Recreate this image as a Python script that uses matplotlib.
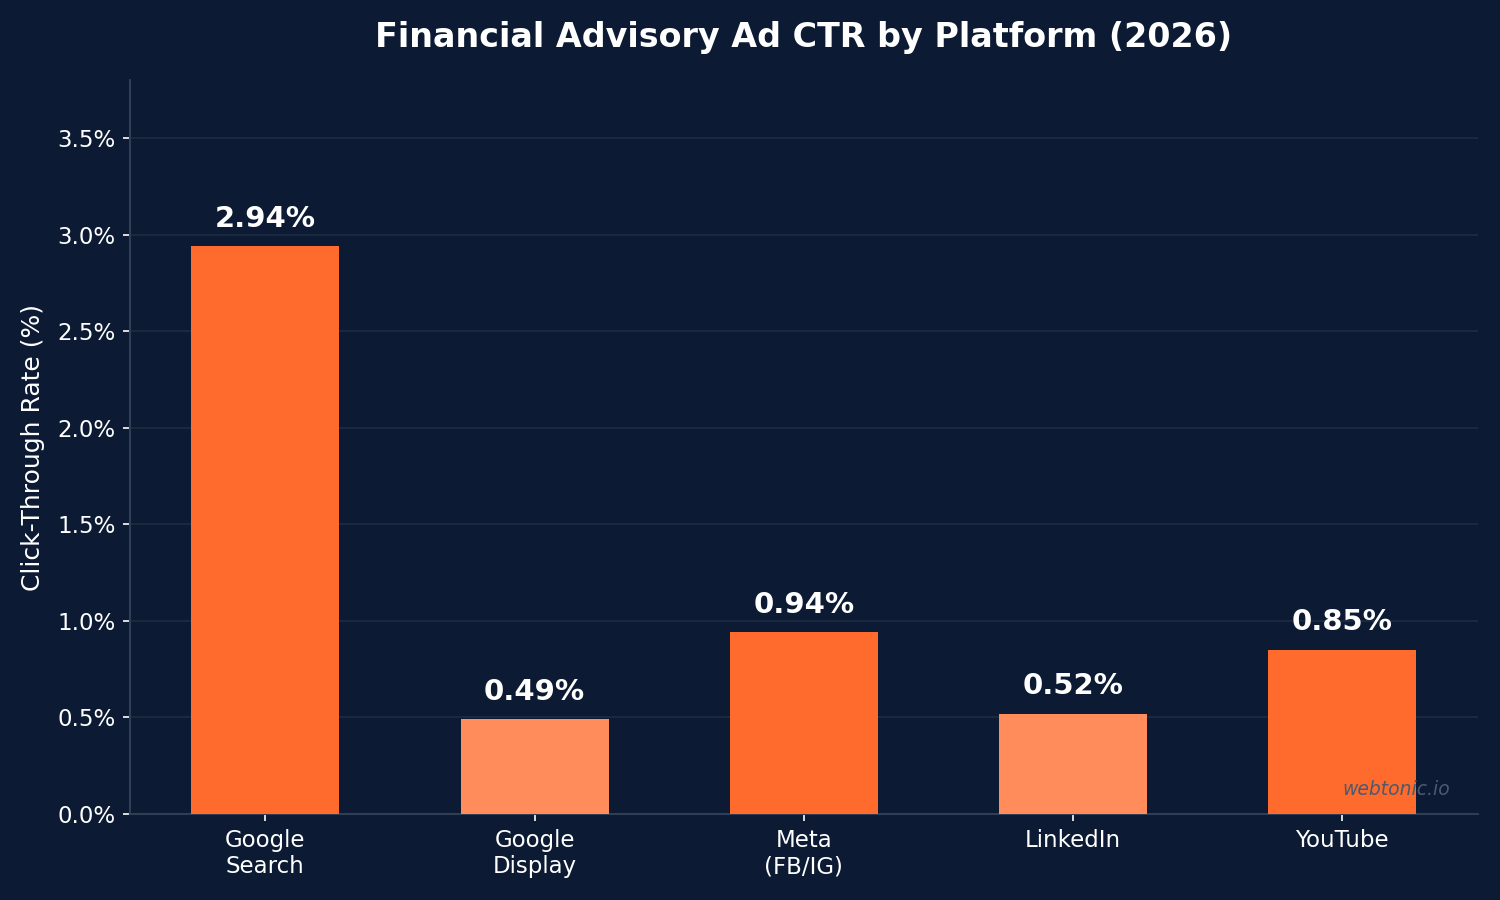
import matplotlib
matplotlib.use("Agg")
import matplotlib.pyplot as plt
from matplotlib.ticker import FuncFormatter

# 数据
platforms = ["Google\nSearch", "Google\nDisplay", "Meta\n(FB/IG)", "LinkedIn", "YouTube"]
ctr = [2.94, 0.49, 0.94, 0.52, 0.85]
bar_colors = ["#ff6b2c", "#ff8c5a", "#ff6b2c", "#ff8c5a", "#ff6b2c"]

BG = "#0c1b33"

fig, ax = plt.subplots(figsize=(10, 6), dpi=150)
fig.patch.set_facecolor(BG)
ax.set_facecolor(BG)
fig.subplots_adjust(left=0.0867, right=0.985, bottom=0.0956, top=0.911)

bars = ax.bar(range(len(platforms)), ctr, width=0.55, color=bar_colors, zorder=3)

# 柱顶数值
for b, v in zip(bars, ctr):
    ax.text(b.get_x() + b.get_width() / 2, v + 0.07, f"{v:.2f}%",
            ha="center", va="bottom", color="white", fontsize=14, fontweight="bold")

ax.set_xticks(range(len(platforms)))
ax.set_xticklabels(platforms, fontsize=11, color="white")
ax.set_ylim(0, 3.8)
ax.set_yticks([0, 0.5, 1.0, 1.5, 2.0, 2.5, 3.0, 3.5])
ax.yaxis.set_major_formatter(FuncFormatter(lambda y, _: f"{y:.1f}%"))
ax.tick_params(axis="y", labelsize=11, colors="white")
ax.tick_params(axis="both", color="white", length=3.5)
ax.set_ylabel("Click-Through Rate (%)", fontsize=12, color="white", labelpad=6)
ax.set_title("Financial Advisory Ad CTR by Platform (2026)", fontsize=16,
             fontweight="bold", color="white", pad=16)

ax.grid(axis="y", color="#1f2c42", linewidth=0.8, zorder=0)
for s in ["top", "right"]:
    ax.spines[s].set_visible(False)
for s in ["left", "bottom"]:
    ax.spines[s].set_color("#2f3d55")
    ax.spines[s].set_linewidth(1)

# 水印
ax.text(0.98, 0.02, "webtonic.io", transform=ax.transAxes, ha="right", va="bottom",
        fontsize=9, style="italic", color="#4a5a70", zorder=4)

plt.savefig("out.png", facecolor=BG)
